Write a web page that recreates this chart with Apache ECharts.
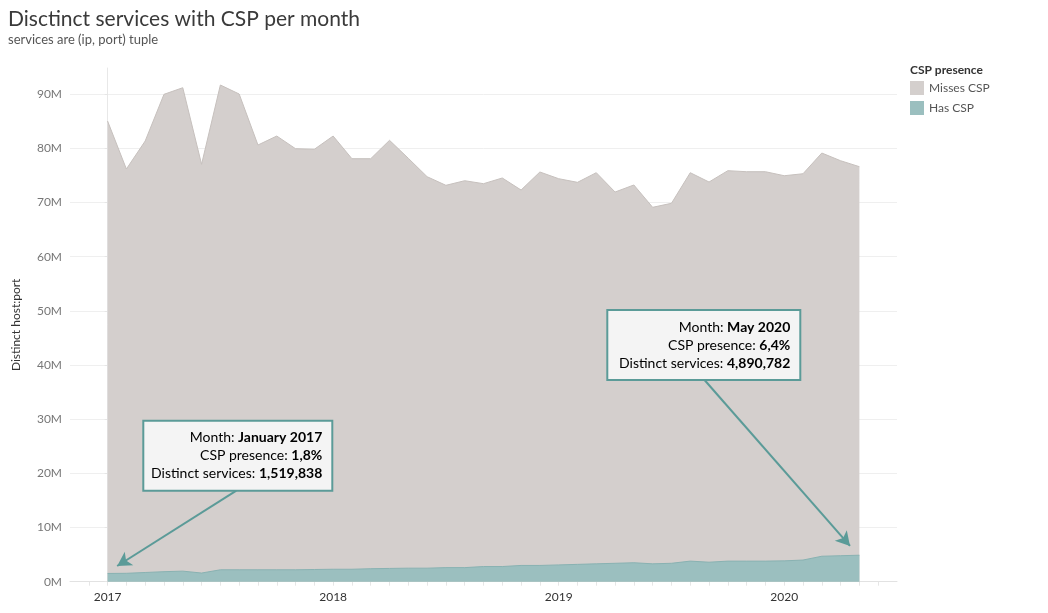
<!DOCTYPE html>
<html>
<head>
<meta charset="utf-8">
<script src="https://cdn.jsdelivr.net/npm/echarts@6/dist/echarts.min.js"></script>
<style>
  html, body { margin: 0; padding: 0; background: #fff; }
  #chart { width: 1048px; height: 613px; }
</style>
</head>
<body>
<div id="chart"></div>
<script>
// Months (x index 0 = January 2017)
const months = [
  'Jan 2017','Feb 2017','Mar 2017','Apr 2017','May 2017','Jun 2017','Jul 2017','Aug 2017','Sep 2017','Oct 2017','Nov 2017','Dec 2017',
  'Jan 2018','Feb 2018','Mar 2018','Apr 2018','May 2018','Jun 2018','Jul 2018','Aug 2018','Sep 2018','Oct 2018','Nov 2018','Dec 2018',
  'Jan 2019','Feb 2019','Mar 2019','Apr 2019','May 2019','Jun 2019','Jul 2019','Aug 2019','Sep 2019','Oct 2019','Nov 2019','Dec 2019',
  'Jan 2020','Feb 2020','Mar 2020','Apr 2020','May 2020'
];
const yearLabels = ['2017', '2018', '2019', '2020'];

// Distinct services (millions) with CSP
const hasCSP = [
  1.52, 1.55, 1.70, 1.85, 1.95, 1.60, 2.20, 2.20, 2.20, 2.20, 2.20, 2.25,
  2.30, 2.30, 2.40, 2.45, 2.50, 2.50, 2.60, 2.60, 2.80, 2.80, 3.00, 3.00,
  3.10, 3.20, 3.30, 3.40, 3.50, 3.30, 3.40, 3.80, 3.60, 3.80, 3.80, 3.80,
  3.85, 4.00, 4.70, 4.80, 4.89
];
// Distinct services (millions) missing CSP
const missesCSP = [
  83.54, 74.65, 79.67, 88.14, 89.26, 75.47, 89.51, 87.85, 78.43, 80.09, 77.75, 77.59,
  79.99, 75.80, 75.70, 79.05, 75.68, 72.28, 70.59, 71.44, 70.69, 71.74, 69.32, 72.65,
  71.31, 70.54, 72.22, 68.55, 69.75, 65.83, 66.47, 71.72, 70.20, 72.09, 71.90, 71.90,
  71.11, 71.33, 74.45, 72.93, 71.74
];

const FONT = 'Lato, "Open Sans", sans-serif';
const TEAL = '#5b9b98';

const chart = echarts.init(document.getElementById('chart'), null, { renderer: 'canvas' });

const monthTicks = [];
for (let i = -1; i <= 41; i++) monthTicks.push(i);

// stacked layout: bottom band = has CSP, top band sits on it
const hasPts = hasCSP.map((v, i) => [i, v]);
const stackedTopPts = missesCSP.map((v, i) => [i, +(v + hasCSP[i]).toFixed(3)]);

function annotation(x, y, w, h, lines) {
  const text = lines.map(l => '{l|' + l[0] + ' }{b|' + l[1] + '}').join('\n');
  return {
    type: 'group',
    z: 100,
    children: [
      { type: 'rect', shape: { x: x, y: y, width: w, height: h },
        style: { fill: '#f4f4f4', stroke: TEAL, lineWidth: 2 }, z: 100 },
      { type: 'text', z: 101,
        style: {
          x: x + w - 10, y: y + h / 2, text: text,
          align: 'right', verticalAlign: 'middle',
          fontFamily: FONT,
          rich: {
            l: { fontSize: 14, color: '#858585', fontFamily: FONT, lineHeight: 18 },
            b: { fontSize: 14, color: '#333', fontWeight: 'bold', fontFamily: FONT, lineHeight: 18 }
          }
        } }
    ]
  };
}

const option = {
  animation: false,
  textStyle: { fontFamily: FONT },
  title: {
    text: 'Disctinct services with CSP per month',
    subtext: 'services are (ip, port) tuple',
    left: 3, top: 4,
    itemGap: 3,
    textStyle: { fontFamily: FONT, fontSize: 21, fontWeight: 'normal', color: '#3a3a3a' },
    subtextStyle: { fontFamily: FONT, fontSize: 13, color: '#555' }
  },
  legend: {
    orient: 'vertical',
    left: 910, top: 81,
    padding: 0,
    itemWidth: 14, itemHeight: 14, itemGap: 6,
    icon: 'rect',
    data: ['Misses CSP', 'Has CSP'],
    textStyle: { fontFamily: FONT, fontSize: 12, color: '#555' }
  },
  grid: { left: 70, right: 151, top: 68, bottom: 31.3, containLabel: false },
  xAxis: {
    type: 'value',
    min: -2, max: 42,
    axisLine: { show: true, lineStyle: { color: '#e2e2e2', width: 1 } },
    axisTick: { show: true, customValues: monthTicks, length: 4, lineStyle: { color: '#e6e6e6' } },
    splitLine: { show: false },
    axisLabel: {
      customValues: [0, 12, 24, 36],
      formatter: v => yearLabels[Math.round(v / 12)],
      color: '#333', fontSize: 12, fontFamily: FONT, margin: 9
    }
  },
  yAxis: {
    type: 'value',
    min: 0, max: 94.85, interval: 10,
    name: 'Distinct host:port',
    nameLocation: 'middle',
    nameGap: 48,
    nameTextStyle: { fontFamily: FONT, fontSize: 12, color: '#333' },
    axisLine: { show: true, lineStyle: { color: '#e8e8e8' } },
    axisTick: { show: true, length: 3, lineStyle: { color: '#e6e6e6' } },
    splitLine: { show: true, showMaxLine: false, lineStyle: { color: '#efefef' } },
    axisLabel: {
      showMaxLabel: false,
      formatter: v => v + 'M',
      color: '#777', fontSize: 12, fontFamily: FONT, margin: 8
    }
  },
  series: [
    {
      name: 'Misses CSP',
      type: 'line',
      data: stackedTopPts,
      symbol: 'none',
      color: '#d4cfcd',
      lineStyle: { color: '#c6c0bd', width: 1 },
      areaStyle: { color: '#d4cfcd', opacity: 1 },
      z: 2
    },
    {
      name: 'Has CSP',
      type: 'line',
      data: hasPts,
      symbol: 'none',
      color: '#9bbfbf',
      lineStyle: { color: '#89b2b2', width: 1 },
      areaStyle: { color: '#9bbfbf', opacity: 1 },
      z: 3,
      markLine: {
        silent: true,
        symbol: ['none', 'arrow'],
        symbolSize: [12, 14],
        label: { show: false },
        lineStyle: { color: TEAL, width: 2, type: 'solid' },
        emphasis: { disabled: true },
        data: [
          [{ coord: [6.85, 16.8] }, { coord: [0.51, 2.9] }],
          [{ coord: [31.77, 37.2] }, { coord: [39.5, 6.6] }]
        ]
      }
    }
  ],
  graphic: [
    { type: 'text', left: 910, top: 64,
      style: { text: 'CSP presence', fontFamily: FONT, fontSize: 12, fontWeight: 'bold', fill: '#333' } },
    annotation(143.3, 420.7, 189, 70, [
      ['Month:', 'January 2017'], ['CSP presence:', '1,8%'], ['Distinct services:', '1,519,838']
    ]),
    annotation(607.3, 310, 193, 70, [
      ['Month:', 'May 2020'], ['CSP presence:', '6,4%'], ['Distinct services:', '4,890,782']
    ])
  ]
};

chart.setOption(option);
</script>
</body>
</html>
